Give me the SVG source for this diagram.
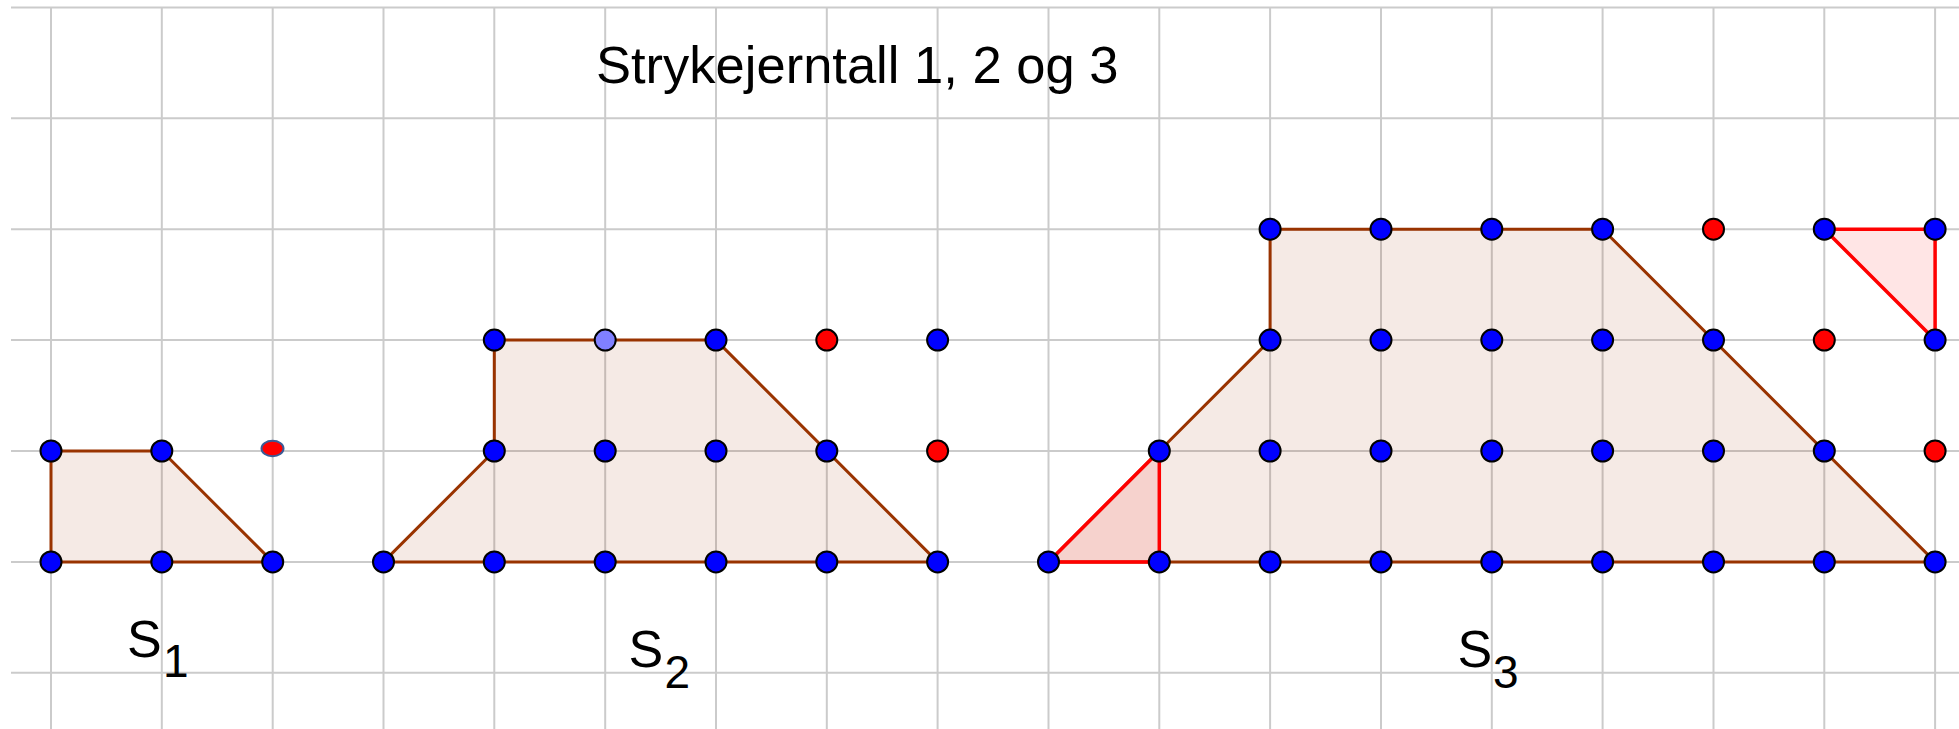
<svg xmlns="http://www.w3.org/2000/svg" width="1959" height="729" viewBox="0 0 1959 729">
<style>
.grid line{stroke:#cbcbcb;stroke-width:2}
.poly{fill:#993300;fill-opacity:0.1;stroke:#993300;stroke-width:3;stroke-linejoin:round}
.tri{fill:#ff0000;fill-opacity:0.1;stroke:#ff0000;stroke-width:3.5;stroke-linejoin:round}
.b{fill:#0000ff;stroke:#000;stroke-width:2}
.r{fill:#ff0000;stroke:#000;stroke-width:2}
.l{fill:#8080ff;stroke:#000;stroke-width:2}
.t{font-family:"Liberation Sans",Arial,sans-serif;fill:#000}
</style>
<rect width="1959" height="729" fill="#fff"/>
<g class="grid" id="grid">
<line x1="51" y1="7.4" x2="51" y2="729"/>
<line x1="161.8" y1="7.4" x2="161.8" y2="729"/>
<line x1="272.7" y1="7.4" x2="272.7" y2="729"/>
<line x1="383.5" y1="7.4" x2="383.5" y2="729"/>
<line x1="494.3" y1="7.4" x2="494.3" y2="729"/>
<line x1="605.2" y1="7.4" x2="605.2" y2="729"/>
<line x1="716" y1="7.4" x2="716" y2="729"/>
<line x1="826.8" y1="7.4" x2="826.8" y2="729"/>
<line x1="937.6" y1="7.4" x2="937.6" y2="729"/>
<line x1="1048.5" y1="7.4" x2="1048.5" y2="729"/>
<line x1="1159.3" y1="7.4" x2="1159.3" y2="729"/>
<line x1="1270.1" y1="7.4" x2="1270.1" y2="729"/>
<line x1="1381" y1="7.4" x2="1381" y2="729"/>
<line x1="1491.8" y1="7.4" x2="1491.8" y2="729"/>
<line x1="1602.6" y1="7.4" x2="1602.6" y2="729"/>
<line x1="1713.5" y1="7.4" x2="1713.5" y2="729"/>
<line x1="1824.3" y1="7.4" x2="1824.3" y2="729"/>
<line x1="1935.1" y1="7.4" x2="1935.1" y2="729"/>
<line x1="11" y1="7.4" x2="1959" y2="7.4"/>
<line x1="11" y1="118.3" x2="1959" y2="118.3"/>
<line x1="11" y1="229.2" x2="1959" y2="229.2"/>
<line x1="11" y1="340.1" x2="1959" y2="340.1"/>
<line x1="11" y1="451" x2="1959" y2="451"/>
<line x1="11" y1="561.9" x2="1959" y2="561.9"/>
<line x1="11" y1="672.8" x2="1959" y2="672.8"/>
</g>
<text class="t" x="596" y="82.7" font-size="52.5">Strykejerntall 1, 2 og 3</text>
<g id="connectors">
<polygon id="S1-shape" class="poly" points="51,451 161.8,451 272.7,561.9 51,561.9"/>
<polygon id="S2-shape" class="poly" points="383.5,561.9 494.3,451 494.3,340.1 716,340.1 937.6,561.9"/>
<polygon id="S3-shape" class="poly" points="1048.5,561.9 1159.3,451 1270.1,340.1 1270.1,229.2 1602.6,229.2 1935.1,561.9"/>
<polygon id="S3-tri-left" class="tri" points="1048.5,561.9 1159.3,451 1159.3,561.9"/>
<polygon id="S3-tri-right" class="tri" points="1824.3,229.2 1935.1,229.2 1935.1,340.1"/>
</g>
<g id="S1">
<circle class="b" cx="51" cy="451" r="10.5"/>
<circle class="b" cx="161.8" cy="451" r="10.5"/>
<ellipse cx="272.5" cy="448.5" rx="11" ry="7.8" fill="#ff0000" stroke="#3b5b96" stroke-width="2"/>
<circle class="b" cx="51" cy="561.9" r="10.5"/>
<circle class="b" cx="161.8" cy="561.9" r="10.5"/>
<circle class="b" cx="272.7" cy="561.9" r="10.5"/>
<text class="t" x="127" y="656.5" font-size="52">S</text>
<text class="t" x="163" y="676.5" font-size="46">1</text>
</g>
<g id="S2">
<circle class="b" cx="494.3" cy="340.1" r="10.5"/>
<circle class="l" cx="605.2" cy="340.1" r="10.5"/>
<circle class="b" cx="716" cy="340.1" r="10.5"/>
<circle class="r" cx="826.8" cy="340.1" r="10.5"/>
<circle class="b" cx="937.6" cy="340.1" r="10.5"/>
<circle class="b" cx="494.3" cy="451" r="10.5"/>
<circle class="b" cx="605.2" cy="451" r="10.5"/>
<circle class="b" cx="716" cy="451" r="10.5"/>
<circle class="b" cx="826.8" cy="451" r="10.5"/>
<circle class="r" cx="937.6" cy="451" r="10.5"/>
<circle class="b" cx="383.5" cy="561.9" r="10.5"/>
<circle class="b" cx="494.3" cy="561.9" r="10.5"/>
<circle class="b" cx="605.2" cy="561.9" r="10.5"/>
<circle class="b" cx="716" cy="561.9" r="10.5"/>
<circle class="b" cx="826.8" cy="561.9" r="10.5"/>
<circle class="b" cx="937.6" cy="561.9" r="10.5"/>
<text class="t" x="628.5" y="666.5" font-size="52">S</text>
<text class="t" x="664.5" y="688.3" font-size="46">2</text>
</g>
<g id="S3">
<circle class="b" cx="1270.1" cy="229.2" r="10.5"/>
<circle class="b" cx="1381" cy="229.2" r="10.5"/>
<circle class="b" cx="1491.8" cy="229.2" r="10.5"/>
<circle class="b" cx="1602.6" cy="229.2" r="10.5"/>
<circle class="r" cx="1713.5" cy="229.2" r="10.5"/>
<circle class="b" cx="1824.3" cy="229.2" r="10.5"/>
<circle class="b" cx="1935.1" cy="229.2" r="10.5"/>
<circle class="b" cx="1270.1" cy="340.1" r="10.5"/>
<circle class="b" cx="1381" cy="340.1" r="10.5"/>
<circle class="b" cx="1491.8" cy="340.1" r="10.5"/>
<circle class="b" cx="1602.6" cy="340.1" r="10.5"/>
<circle class="b" cx="1713.5" cy="340.1" r="10.5"/>
<circle class="r" cx="1824.3" cy="340.1" r="10.5"/>
<circle class="b" cx="1935.1" cy="340.1" r="10.5"/>
<circle class="b" cx="1159.3" cy="451" r="10.5"/>
<circle class="b" cx="1270.1" cy="451" r="10.5"/>
<circle class="b" cx="1381" cy="451" r="10.5"/>
<circle class="b" cx="1491.8" cy="451" r="10.5"/>
<circle class="b" cx="1602.6" cy="451" r="10.5"/>
<circle class="b" cx="1713.5" cy="451" r="10.5"/>
<circle class="b" cx="1824.3" cy="451" r="10.5"/>
<circle class="r" cx="1935.1" cy="451" r="10.5"/>
<circle class="b" cx="1048.5" cy="561.9" r="10.5"/>
<circle class="b" cx="1159.3" cy="561.9" r="10.5"/>
<circle class="b" cx="1270.1" cy="561.9" r="10.5"/>
<circle class="b" cx="1381" cy="561.9" r="10.5"/>
<circle class="b" cx="1491.8" cy="561.9" r="10.5"/>
<circle class="b" cx="1602.6" cy="561.9" r="10.5"/>
<circle class="b" cx="1713.5" cy="561.9" r="10.5"/>
<circle class="b" cx="1824.3" cy="561.9" r="10.5"/>
<circle class="b" cx="1935.1" cy="561.9" r="10.5"/>
<text class="t" x="1457.5" y="666.5" font-size="52">S</text>
<text class="t" x="1493" y="688.3" font-size="46">3</text>
</g>
</svg>
